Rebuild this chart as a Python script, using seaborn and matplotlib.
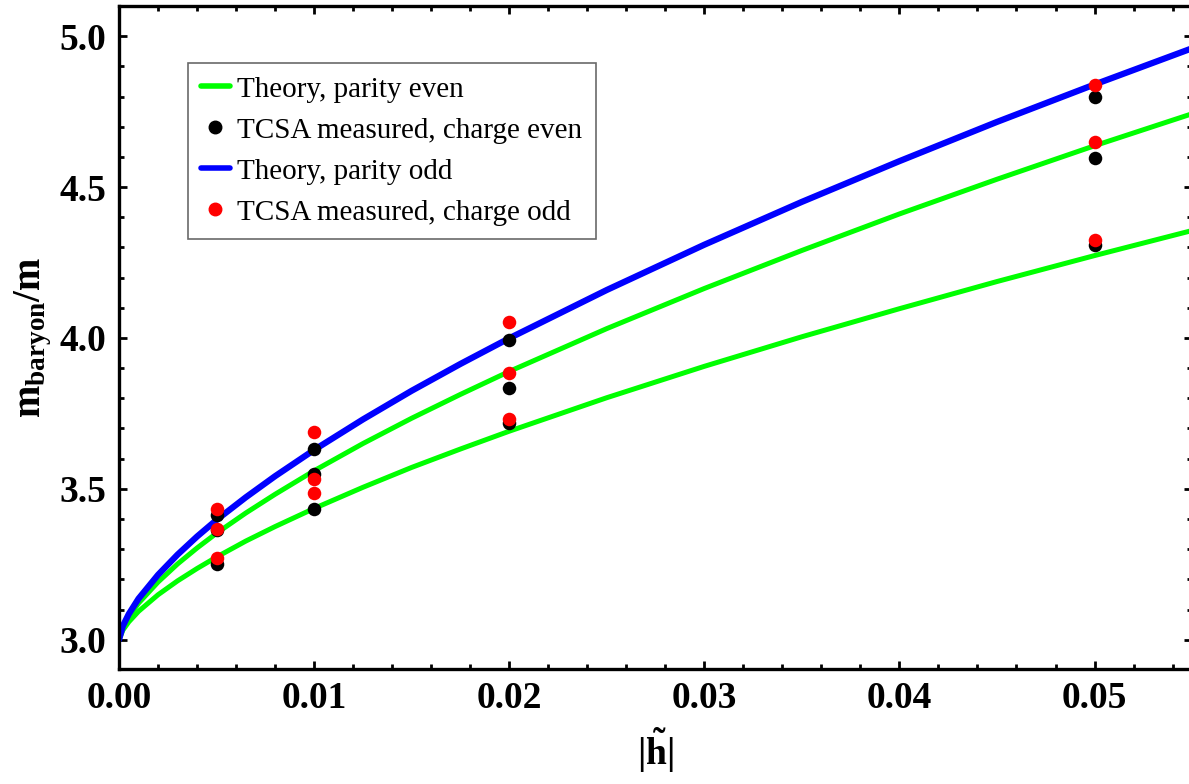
import numpy as np
import pandas as pd
import seaborn as sns
import matplotlib
matplotlib.use('Agg')
import matplotlib.pyplot as plt
from matplotlib.lines import Line2D
from matplotlib.ticker import MultipleLocator, FormatStrFormatter

# theory curves, values
h_curve = [0.0, 0.0002, 0.0005, 0.001, 0.002, 0.003, 0.004, 0.005, 0.0065, 0.008,
           0.01, 0.0125, 0.015, 0.0175, 0.02, 0.025, 0.03, 0.035, 0.04, 0.045, 0.05, 0.055]
odd_curve = [3.000, 3.046, 3.085, 3.136, 3.215, 3.282, 3.342, 3.397, 3.472, 3.542,
             3.629, 3.730, 3.825, 3.914, 3.999, 4.159, 4.309, 4.451, 4.586, 4.716, 4.840, 4.960]
even_curve_upper = [3.000, 3.041, 3.076, 3.121, 3.191, 3.251, 3.304, 3.353, 3.420, 3.482,
                    3.560, 3.650, 3.734, 3.813, 3.889, 4.031, 4.164, 4.290, 4.411, 4.526, 4.637, 4.743]
even_curve_lower = [3.000, 3.032, 3.059, 3.094, 3.149, 3.195, 3.236, 3.274, 3.327, 3.375,
                    3.435, 3.505, 3.571, 3.632, 3.691, 3.802, 3.906, 4.004, 4.097, 4.187, 4.273, 4.356]

# TCSA points
h_points = [0.005, 0.005, 0.005, 0.01, 0.01, 0.01, 0.02, 0.02, 0.02, 0.05, 0.05, 0.05]
charge_even = [3.413, 3.362, 3.252, 3.631, 3.550, 3.434, 3.993, 3.835, 3.717, 4.799, 4.595, 4.307]
charge_odd = [3.432, 3.367, 3.270, 3.688, 3.533, 3.487, 4.054, 3.885, 3.730, 4.838, 4.651, 4.325]

sns.set_style("ticks")
plt.rcParams['font.family'] = ['Liberation Serif', 'DejaVu Serif']
plt.rcParams['mathtext.fontset'] = 'custom'
plt.rcParams['mathtext.rm'] = 'Liberation Serif'
plt.rcParams['mathtext.bf'] = 'Liberation Serif:bold'
plt.rcParams['mathtext.it'] = 'Liberation Serif:italic'
plt.rcParams['text.color'] = 'black'
plt.rcParams['axes.labelcolor'] = 'black'

fig = plt.figure(figsize=(11.89, 7.84), dpi=100)
ax = fig.add_axes([0.1001, 0.1467, 0.9025, 0.8456])

curves = pd.DataFrame({"h": h_curve, "odd": odd_curve,
                       "even_up": even_curve_upper, "even_lo": even_curve_lower})
sns.lineplot(data=curves, x="h", y="even_lo", color="#00ff00", linewidth=3.6, ax=ax)
sns.lineplot(data=curves, x="h", y="even_up", color="#00ff00", linewidth=3.6, ax=ax)
sns.lineplot(data=curves, x="h", y="odd", color="#0000ff", linewidth=4.5, ax=ax)

pts = pd.DataFrame({"h": h_points, "even": charge_even, "odd": charge_odd})
sns.scatterplot(data=pts, x="h", y="even", color="black", s=95, linewidth=0, ax=ax, zorder=5)
sns.scatterplot(data=pts, x="h", y="odd", color="#ff0000", s=95, linewidth=0, ax=ax, zorder=6)

ax.set_xlim(0, 0.055)
ax.set_ylim(2.903, 5.10)
ax.xaxis.set_major_locator(MultipleLocator(0.01))
ax.xaxis.set_minor_locator(MultipleLocator(0.002))
ax.yaxis.set_major_locator(MultipleLocator(0.5))
ax.yaxis.set_minor_locator(MultipleLocator(0.1))
ax.xaxis.set_major_formatter(FormatStrFormatter('%.2f'))
ax.yaxis.set_major_formatter(FormatStrFormatter('%.1f'))

for side in ['left', 'bottom', 'top']:
    ax.spines[side].set_linewidth(2.4)
    ax.spines[side].set_color('black')
ax.spines['right'].set_visible(False)
ax.tick_params(which='both', direction='in', top=True, right=True, width=2,
               color='black', labelcolor='black')
ax.tick_params(which='major', length=6, labelsize=27, pad=9)
ax.tick_params(which='minor', length=3.5)
for lab in ax.get_xticklabels() + ax.get_yticklabels():
    lab.set_fontweight('bold')

ax.set_xlabel(r'$\mathbf{|\tilde{h}|}$', fontsize=27, labelpad=6)
ax.set_ylabel(r'$\mathbf{m}_{\mathbf{baryon}}\mathbf{/m}$', fontsize=28, labelpad=4)

handles = [
    Line2D([], [], color="#00ff00", lw=4),
    Line2D([], [], color="black", marker='o', ls='', markersize=9),
    Line2D([], [], color="#0000ff", lw=4),
    Line2D([], [], color="#ff0000", marker='o', ls='', markersize=9),
]
labels = ["Theory, parity even", "TCSA measured, charge even",
          "Theory, parity odd", "TCSA measured, charge odd"]
leg = ax.legend(handles, labels, loc='upper left', bbox_to_anchor=(0.064, 0.914),
                borderaxespad=0, fontsize=21, frameon=True, fancybox=False,
                handlelength=1.0, handletextpad=0.25, labelspacing=0.5,
                borderpad=0.45)
leg.get_frame().set_edgecolor('#444444')
leg.get_frame().set_linewidth(1.2)

fig.savefig("out.png", dpi=100)
